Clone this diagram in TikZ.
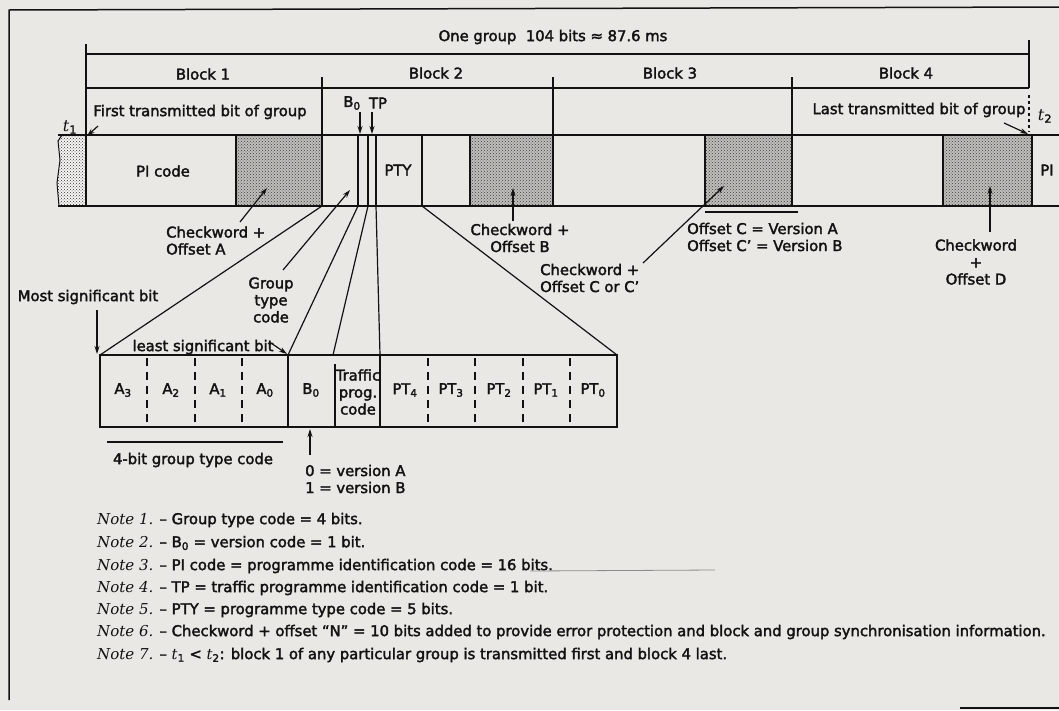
\documentclass[tikz,border=0pt]{standalone}
\usepackage{fontspec}
\setmainfont{DejaVu Sans}[FakeBold=2.2]
\newfontfamily\itserif{DejaVu Serif}
\usetikzlibrary{arrows.meta,patterns}
\definecolor{paper}{RGB}{234,232,228}
\definecolor{ink}{RGB}{18,18,18}
\definecolor{shade}{RGB}{192,190,186}
\newcommand\tv[1]{{\itserif\itshape t}\textsubscript{#1}}
\newcommand\nt[1]{{\itserif\itshape\fontsize{15}{17}\selectfont Note #1.}}
\begin{document}
\begin{tikzpicture}[x=1pt,y=-1pt,
  txt/.style={font=\fontsize{14.8}{17}\selectfont, text=ink, inner sep=0pt},
  bar/.style={line width=2pt, draw=ink},
  dim/.style={line width=1.4pt, draw=ink},
  fan/.style={line width=1.2pt, draw=ink},
  arr/.style={line width=1.2pt, draw=ink, -{Stealth[length=8pt,width=5pt]}},
  dsh/.style={line width=1.3pt, draw=ink, dash pattern=on 8pt off 6pt},
  chk/.style={fill=shade},
  dotsfill/.style={pattern=crosshatch dots, pattern color=black!75},
]
\fill[paper] (0,0) rectangle (1059,710);
\useasboundingbox (0,0) rectangle (1059,710);

% frame
\draw[line width=1.5pt, ink] (9,700) -- (9,10) -- (1059,7);
\draw[line width=2.5pt, ink] (960,708) -- (1059,708);

% dimension lines
\draw[dim] (86,44) -- (86,206);
\draw[dim] (86,54) -- (1029,54);
\draw[dim] (86,88) -- (1029,88);
\draw[dim] (1029,40) -- (1029,88);
\draw[line width=1.2pt, ink, dashed] (1029,95) -- (1029,132);
\draw[dim] (322,77) -- (322,135);
\draw[dim] (553,77) -- (553,135);
\draw[dim] (792,77) -- (792,135);

\node[txt] (grp) at (553,37) {One group\ \ 104 bits ≈ 87.6 ms};
\node[txt] (bk1) at (203,74) {Block 1};
\node[txt] (bk2) at (436,73) {Block 2};
\node[txt] (bk3) at (670,73) {Block 3};
\node[txt] (bk4) at (906,73) {Block 4};
\node[txt] (first) at (200,112) {First transmitted bit of group};
\node[txt] (last) at (919,110) {Last transmitted bit of group};
\node[txt, font=\fontsize{16}{18}\selectfont] (t1) at (70,127) {\tv{1}};
\node[txt, font=\fontsize{16}{18}\selectfont] (t2) at (1045,116) {\tv{2}};
\node[txt] (b0lab) at (352,103) {B\textsubscript{0}};
\node[txt] (tplab) at (378,103) {TP};

% checkword shading
\foreach \a/\b in {236/322, 470/553, 705/792, 943/1032}{
  \fill[chk] (\a,135) rectangle (\b,206);
  \fill[dotsfill] (\a,135) rectangle (\b,206);
}
% left stub
\fill[white!60!paper] (86,135) -- (62,135) -- (58,141) -- (60,160) -- (57,183) -- (59,206) -- (86,206) -- cycle;
\fill[pattern=crosshatch dots, pattern color=black!80] (86,135) -- (62,135) -- (58,141) -- (60,160) -- (57,183) -- (59,206) -- (86,206) -- cycle;
\draw[line width=1pt, ink] (62,135) -- (58,141) -- (60,160) -- (57,183) -- (59,206);

% bar
\draw[bar] (58,135) -- (1059,135);
\draw[bar] (58,206) -- (1059,206);
\foreach \x in {86,236,322,358,368,376,422,470,553,705,792,943,1032}
  \draw[bar] (\x,135) -- (\x,206);

\node[txt] (pi) at (163,171) {PI code};
\node[txt] (pty) at (398,170) {PTY};
\node[txt] (pi2) at (1047,170) {PI};

% arrows above bar
\coordinate (t1e) at (87,136);
\coordinate (t1s) at (98,126);
\draw[arr] (t1s) -- (t1e);
\coordinate (t2s) at (1004,123);
\coordinate (t2e) at (1028,134);
\draw[arr] (t2s) -- (t2e);
\coordinate (b0s) at (360,112);
\coordinate (b0e) at (360,134);
\draw[arr] (b0s) -- (b0e);
\coordinate (tps) at (372,112);
\coordinate (tpe) at (372,134);
\draw[arr] (tps) -- (tpe);

% annotations below bar
\node[txt, anchor=west, align=left] (chka) at (166,240.5) {Checkword +\\Offset A};
\node[txt, align=center] (chkb) at (520,238) {Checkword +\\Offset B};
\node[txt, anchor=west, align=left] (chkc) at (540,278) {Checkword +\\Offset C or C'};
\node[txt, anchor=west, align=left] (offc) at (687,237) {Offset C = Version A\\Offset C' = Version B};
\node[txt, align=center] (chkd) at (976,262) {Checkword\\+\\Offset D};
\node[txt, align=center] (gtc) at (271,300) {Group\\type\\code};
\node[txt] (msb) at (88,297) {Most significant bit};
\node[txt] (lsb) at (203,347) {least significant bit};

\draw[arr] (240,222) -- (267,188);
\draw[arr] (283,270) -- (350,190);
\draw[arr] (513,221) -- (513,188);
\draw[arr] (643,263) -- (724,186);
\draw[arr] (990,232) -- (990,186);
\draw[dim] (705,212) -- (798,212);

% detail box
\coordinate (dl) at (100,355);
\coordinate (da) at (288,355);
\coordinate (db) at (333,355);
\coordinate (dt) at (380,355);
\coordinate (dr) at (617,355);
\draw[fan] (322,206) -- (dl);
\draw[fan] (358,206) -- (da);
\draw[fan] (368,206) -- (db);
\draw[fan] (376,206) -- (dt);
\draw[fan] (422,206) -- (dr);

\draw[arr] (97,310) -- (97,354);
\draw[arr] (271,343) -- (287,354);

\draw[bar] (100,355) rectangle (617,427);
\draw[bar] (288,355) -- (288,427);
\draw[bar] (380,355) -- (380,427);
\draw[line width=1.2pt, ink] (335,364) -- (335,427);
\foreach \x in {147,195,242,428,475,523,570}
  \draw[dsh] (\x,358) -- (\x,427);

\node[txt] (a3) at (123,390) {A\textsubscript{3}};
\node[txt] (a2) at (171,390) {A\textsubscript{2}};
\node[txt] (a1) at (218,390) {A\textsubscript{1}};
\node[txt] (a0) at (265,390) {A\textsubscript{0}};
\node[txt] (b0) at (311,390) {B\textsubscript{0}};
\node[txt, align=center] (tpc) at (358,392) {Traffic\\prog.\\code};
\node[txt] (pt4) at (405,390) {PT\textsubscript{4}};
\node[txt] (pt3) at (451,390) {PT\textsubscript{3}};
\node[txt] (pt2) at (499,390) {PT\textsubscript{2}};
\node[txt] (pt1) at (546,390) {PT\textsubscript{1}};
\node[txt] (pt0) at (593,390) {PT\textsubscript{0}};

\draw[dim] (107,442) -- (283,442);
\node[txt] (g4) at (193,460) {4-bit group type code};
\draw[arr] (310,455) -- (310,429);
\node[txt, anchor=west, align=left] (ver) at (305,479) {0 = version A\\1 = version B};

% notes
\node[txt, anchor=west] (n1) at (97,520) {\nt{1} – Group type code = 4 bits.};
\node[txt, anchor=west] (n2) at (97,543) {\nt{2} – B\textsubscript{0} = version code = 1 bit.};
\node[txt, anchor=west] (n3) at (97,566) {\nt{3} – PI code = programme identification code = 16 bits.};
\draw[line width=0.8pt, black!45] (530,571) -- (715,570);
\node[txt, anchor=west] (n4) at (97,588) {\nt{4} – TP = traffic programme identification code = 1 bit.};
\node[txt, anchor=west] (n5) at (97,610) {\nt{5} – PTY = programme type code = 5 bits.};
\node[txt, anchor=west] (n6) at (97,632) {\nt{6} – Checkword + offset “N” = 10 bits added to provide error protection and block and group synchronisation information.};
\node[txt, anchor=west] (n7) at (97,655) {\nt{7} – \tv{1} < \tv{2}: block 1 of any particular group is transmitted first and block 4 last.};
\end{tikzpicture}
\end{document}
